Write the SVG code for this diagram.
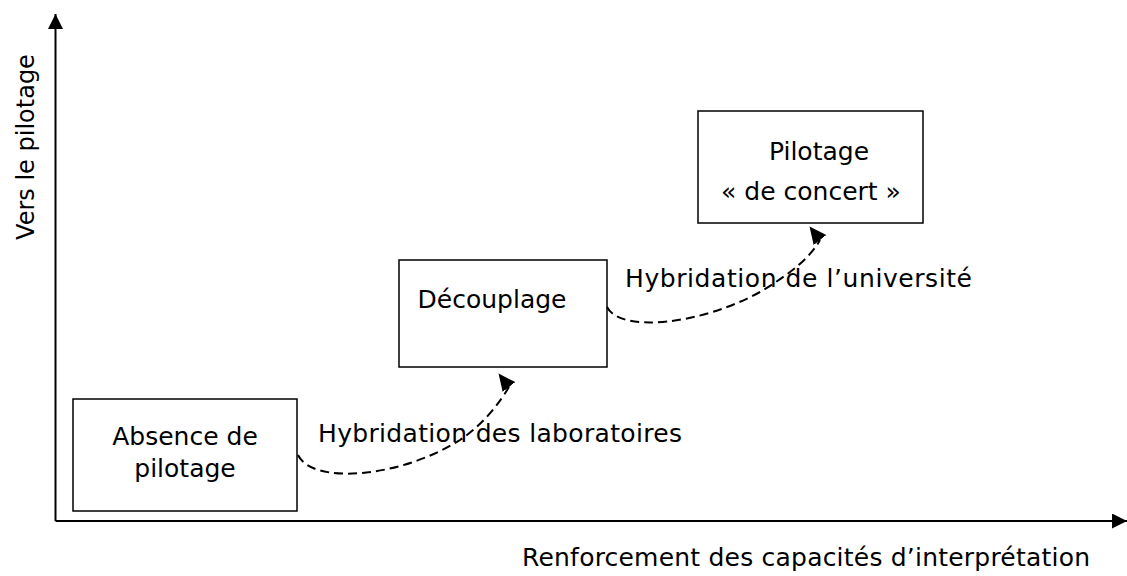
<svg xmlns="http://www.w3.org/2000/svg" width="1127" height="576" viewBox="0 0 1127 576">
<style>
text{font-family:"DejaVu Sans","Liberation Sans",sans-serif;font-size:25px;fill:#000}
.box{fill:#fff;stroke:#000;stroke-width:1.5}
.axis{fill:none;stroke:#000;stroke-width:2}
.flow{fill:none;stroke:#000;stroke-width:2;stroke-dasharray:9 5}
</style>
<defs>
<marker id="ah" markerUnits="userSpaceOnUse" markerWidth="16" markerHeight="16" refX="15" refY="7.5" orient="auto">
<path d="M0,0 L15,7.5 L0,15 Z" fill="#000"/>
</marker>
<marker id="fh" markerUnits="userSpaceOnUse" markerWidth="20" markerHeight="18" refX="0" refY="8" orient="-128">
<path d="M0,0 L17,8 L0,16 Z" fill="#000"/>
</marker>
</defs>
<g id="axes">
<path class="axis" d="M55.5,521 L55.5,14" marker-end="url(#ah)"/>
<path class="axis" d="M55.5,521 L1127,521" marker-end="url(#ah)"/>
<text id="y-label" transform="translate(34,147) rotate(-90)" text-anchor="middle" style="font-size:24px">Vers le pilotage</text>
<text id="x-label" x="522" y="566" textLength="568" lengthAdjust="spacing">Renforcement des capacités d’interprétation</text>
</g>
<g id="node-absence">
<rect class="box" x="73" y="399" width="224" height="112"/>
<text x="185" y="445" text-anchor="middle">Absence de</text>
<text x="185" y="477" text-anchor="middle">pilotage</text>
</g>
<g id="node-decouplage">
<rect class="box" x="399" y="260" width="208" height="107"/>
<text x="492" y="308" text-anchor="middle">Découplage</text>
</g>
<g id="node-pilotage">
<rect class="box" x="698" y="111" width="225" height="112"/>
<text x="819" y="160" text-anchor="middle">Pilotage</text>
<text x="811" y="200" text-anchor="middle">« de concert »</text>
</g>
<g id="connectors">
<path class="flow" d="M298,455 C312,485 400,478 460,440 C485,423 500,402 509,387" marker-end="url(#fh)"/>
<path class="flow" d="M607,307 C620,333 700,325 760,292 C790,274 810,258 820,240" marker-end="url(#fh)"/>
<text x="318" y="442" textLength="364" lengthAdjust="spacing">Hybridation des laboratoires</text>
<text x="625" y="287" textLength="347" lengthAdjust="spacing">Hybridation de l’université</text>
</g>
</svg>
